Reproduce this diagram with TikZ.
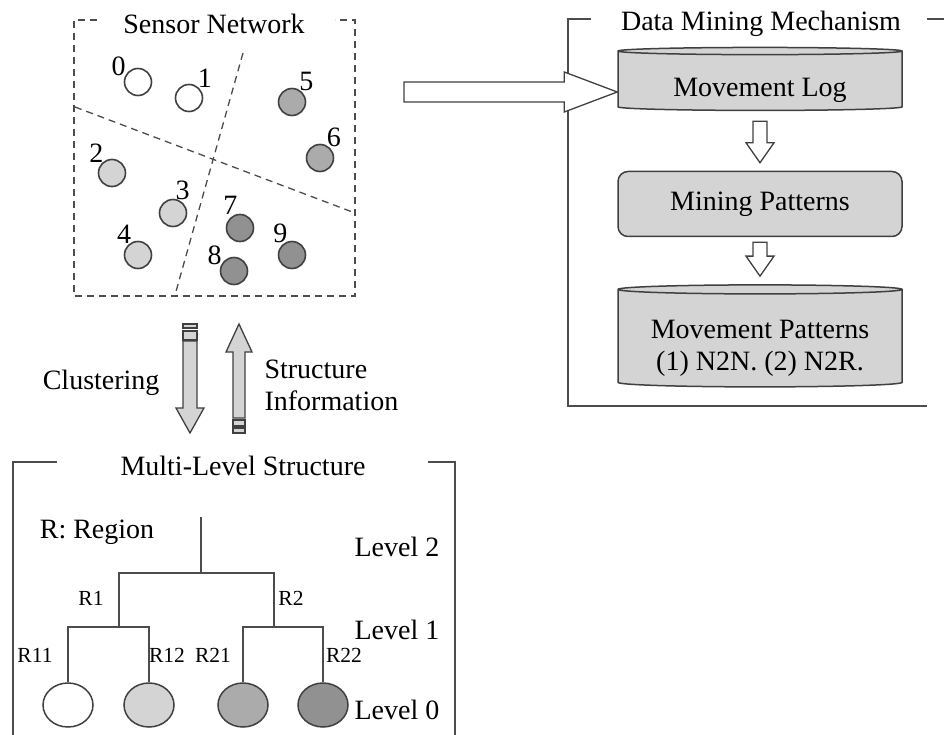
\documentclass[tikz,border=0pt]{standalone}
\usepackage{fontspec}
\setmainfont{Liberation Serif}
\usetikzlibrary{shapes.geometric,calc}

\definecolor{litegray}{gray}{0.83}
\definecolor{midgray}{gray}{0.67}
\definecolor{darkgray}{gray}{0.57}
\definecolor{edgegray}{gray}{0.25}

\tikzset{
  sensor/.style={circle,draw=edgegray,line width=1.6pt,minimum size=27pt,inner sep=0pt},
  num/.style={inner sep=0pt,label distance=-1pt},
  leaf/.style={ellipse,draw=edgegray,line width=1.5pt,minimum width=50pt,minimum height=44pt,inner sep=0pt},
  store/.style={cylinder,shape border rotate=90,aspect=0.04,draw=edgegray,line width=1.5pt,
    fill=litegray,minimum width=284pt,align=center},
  stage/.style={rectangle,rounded corners=10pt,draw=edgegray,line width=1.5pt,fill=litegray,
    minimum width=284pt,minimum height=65pt},
  frame/.style={draw=black!70,line width=1.3pt},
  part/.style={frame,dash pattern=on 7pt off 5pt},
  branch/.style={draw=black!70,line width=1.3pt},
  blockarrow/.style={draw=edgegray,line width=1.3pt,line join=miter},
  small/.style={font=\fontsize{21.5}{24}\selectfont},
}

% text line set lower inside a store
\newcommand{\sunk}[1]{\raisebox{-9pt}[\height][\depth]{#1}}

% hollow block arrow: [fill]{tail}{tip}{half shaft}{half head}{head length}
\newcommand{\hollowarrow}[6][white]{%
  \path ($(#3)!#6!(#2)$) coordinate (hb);
  \filldraw[blockarrow,fill=#1] ($(#2)!#4!90:(#3)$) -- ($(hb)!#4!90:(#3)$) -- ($(hb)!#5!90:(#3)$)
    -- (#3) -- ($(hb)!#5!-90:(#3)$) -- ($(hb)!#4!-90:(#3)$) -- ($(#2)!#4!-90:(#3)$) -- cycle;}

\begin{document}
\begin{tikzpicture}[x=1pt,y=-1pt,font=\fontsize{28}{32}\selectfont]
  \useasboundingbox (0,0) rectangle (944,735);

  % sensor network
  \node (snet) at (214,24) {Sensor Network};
  \draw[part] (97,20) -| (74,296) -| (355,20) -- (335,20);
  \draw[part] (75,107) -- (355,213);
  \draw[part] (243,53) -- (175,295);
  \foreach \n/\x/\y/\c/\a in {0/138/82/white/155, 1/189/98/white/50, 2/112/173/litegray/130,
      3/173/213/litegray/80, 4/138/255/litegray/120, 5/292/102/midgray/58, 6/320/158/midgray/60,
      7/240/228/darkgray/100, 8/234/271/darkgray/155, 9/292/255/darkgray/110}
    \node[sensor,fill=\c,label={[num]\a:\n}] (s\n) at (\x,\y) {};

  % data mining mechanism
  \node (dmm) at (761,24) {Data Mining Mechanism};
  \draw[frame] (591,19) -- (568,19) -- (568,406) -- (927,406);
  \draw[frame] (927,19) -- (944,19);
  \node[store,minimum height=63pt] (log) at (760,81.5) {\sunk{Movement Log}};
  \node[stage] (mine) at (760,204) {Mining Patterns};
  \node[store,minimum height=102pt] (pats) at (760,339)
    {\sunk{Movement Patterns}\\\sunk{(1) N2N. (2) N2R.}};

  \coordinate (feed) at (404,92);
  \coordinate (login) at ($(log.west)+(0,10.5)$);
  \hollowarrow{feed}{login}{10pt}{20pt}{53pt}
  \coordinate (a1) at ($(log.south)+(0,10)$);
  \coordinate (b1) at ($(mine.north)+(0,-8)$);
  \hollowarrow{a1}{b1}{7pt}{14pt}{20pt}
  \coordinate (a2) at ($(mine.south)+(0,5)$);
  \coordinate (b2) at ($(pats.north)+(0,-8)$);
  \hollowarrow{a2}{b2}{7pt}{14pt}{20pt}

  % clustering / structure information
  \coordinate (cl) at (190,341);
  \coordinate (cr) at (190,433);
  \hollowarrow[litegray]{cl}{cr}{7pt}{14pt}{25pt}
  \filldraw[blockarrow,fill=litegray] (183,324) rectangle (197,328);
  \filldraw[blockarrow,fill=litegray] (183,331) rectangle (197,340);
  \coordinate (il) at (239,418);
  \coordinate (ir) at (239,324);
  \hollowarrow[litegray]{il}{ir}{6pt}{13pt}{28pt}
  \filldraw[blockarrow,fill=litegray] (233,420) rectangle (245,426);
  \filldraw[blockarrow,fill=litegray] (233,428) rectangle (245,433);
  \node[anchor=east] (clus) at (163,383) {Clustering};
  \node[anchor=west,align=left] (info) at (261,385) {Structure\\Information};

  % multi-level structure
  \node (mls) at (243,466) {Multi-Level Structure};
  \draw[frame] (57,462) -- (13,462) -- (13,735);
  \draw[frame] (428,462) -- (455,462) -- (455,735);
  \node (reg) at (97,532) {R: Region};
  \node[anchor=west] (lv2) at (351,547) {Level 2};
  \node[anchor=west] (lv1) at (351,630) {Level 1};
  \node[anchor=west] (lv0) at (351,710) {Level 0};

  \node[leaf,fill=white] (l11) at (68,705) {};
  \node[leaf,fill=litegray] (l12) at (149,705) {};
  \node[leaf,fill=midgray] (l21) at (243,705) {};
  \node[leaf,fill=darkgray] (l22) at (323,705) {};
  \coordinate (root) at (201,517);
  \coordinate (rt) at (201,573);
  \coordinate (r1) at (119,627);
  \coordinate (r2) at (274,627);
  \draw[branch] (root) -- (rt);
  \draw[branch] (r1) |- (rt) -| (r2);
  \draw[branch] (l11) |- (r1) -| (l12);
  \draw[branch] (l21) |- (r2) -| (l22);
  \node[small] (nr1) at (91,598) {R1};
  \node[small] (nr2) at (291,598) {R2};
  \node[small] (nr11) at (35,655) {R11};
  \node[small] (nr12) at (167,655) {R12};
  \node[small] (nr21) at (213,655) {R21};
  \node[small] (nr22) at (344,655) {R22};
\end{tikzpicture}
\end{document}
